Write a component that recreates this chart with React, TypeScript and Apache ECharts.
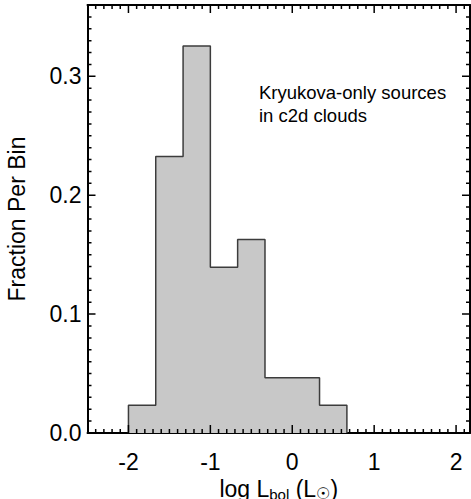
import React, { useEffect, useRef } from "react";
import * as echarts from "echarts";

// Histogram bin edges (log Lbol) and fraction per bin
const binEdges = [-2.0, -1.667, -1.333, -1.0, -0.667, -0.333, 0.0, 0.333, 0.667];
const fractions = [0.0233, 0.2326, 0.3256, 0.1395, 0.1628, 0.0465, 0.0465, 0.0233];

// Axis ranges and tick labels
const xRange = [-2.5, 2.17];
const yRange = [0, 0.36];
const xTickValues = [-2, -1, 0, 1, 2];
const yTickValues = [0.0, 0.1, 0.2, 0.3];
const xMinorStep = 0.1;
const yMinorStep = 0.01;
const annotationLines = ["Kryukova-only sources", "in c2d clouds"];

const FONT = "'Liberation Sans', Arial, Helvetica, sans-serif";

const W = 471;
const H = 499;
const GRID = { left: 87.5, right: 1, top: 5, bottom: 66 };

export default function App() {
  const ref = useRef<HTMLDivElement>(null);

  useEffect(() => {
    document.body.style.margin = "0";
    if (!ref.current) return;
    const chart = echarts.init(ref.current, null, { renderer: "svg" });

    const outline: number[][] = [[binEdges[0], 0]];
    fractions.forEach((v, i) => {
      outline.push([binEdges[i], v]);
      outline.push([binEdges[i + 1], v]);
    });
    outline.push([binEdges[binEdges.length - 1], 0]);

    // data units per pixel, for tick lengths
    const xPerPx = (xRange[1] - xRange[0]) / (W - GRID.left - GRID.right);
    const yPerPx = (yRange[1] - yRange[0]) / (H - GRID.top - GRID.bottom);

    const ticks: any[] = [];
    const gap = ["-", "-"];
    const xs = Math.ceil(xRange[0] / xMinorStep + 1e-9);
    const xe = Math.floor(xRange[1] / xMinorStep - 1e-9);
    for (let k = xs; k <= xe; k++) {
      const v = Math.round(k * xMinorStep * 1000) / 1000;
      const major = xTickValues.some((t) => Math.abs(t - v) < 1e-6);
      const len = (major ? 8 : 4) * yPerPx;
      ticks.push([v, yRange[0]], [v, yRange[0] + len], gap);
      ticks.push([v, yRange[1]], [v, yRange[1] - len], gap);
    }
    const ys = Math.ceil(yRange[0] / yMinorStep + 1e-9);
    const ye = Math.floor(yRange[1] / yMinorStep - 1e-9);
    for (let k = ys; k <= ye; k++) {
      const v = Math.round(k * yMinorStep * 10000) / 10000;
      if (v <= yRange[0]) continue;
      const major = yTickValues.some((t) => Math.abs(t - v) < 1e-6);
      const len = (major ? 8 : 4) * xPerPx;
      ticks.push([xRange[0], v], [xRange[0] + len, v], gap);
      ticks.push([xRange[1], v], [xRange[1] - len, v], gap);
    }

    const labelStyle = { color: "#000", fontSize: 23, fontFamily: FONT };

    chart.setOption({
      animation: false,
      grid: { ...GRID, outerBoundsMode: "none", containLabel: false },
      xAxis: [
        {
          type: "value",
          min: xRange[0],
          max: xRange[1],
          position: "bottom",
          splitLine: { show: false },
          axisLine: { show: true, onZero: false, lineStyle: { color: "#000", width: 2 } },
          axisTick: { show: false },
          axisLabel: { ...labelStyle, margin: 17, customValues: xTickValues, formatter: (v: number) => String(v) },
          name: "log L{sub|bol} (L{sub2|☉})",
          nameLocation: "middle",
          nameGap: 37,
          nameTextStyle: {
            color: "#000",
            fontSize: 23,
            fontFamily: FONT,
            rich: {
              sub: { fontSize: 15, fontFamily: FONT, color: "#000", verticalAlign: "bottom", padding: [9, 0, 0, 0] },
              sub2: { fontSize: 16, fontFamily: "'DejaVu Sans', sans-serif", color: "#000", verticalAlign: "bottom", padding: [9, 0, 0, 0] },
            },
          },
        },
        {
          type: "value",
          min: xRange[0],
          max: xRange[1],
          position: "top",
          splitLine: { show: false },
          axisLine: { show: true, onZero: false, lineStyle: { color: "#000", width: 2 } },
          axisTick: { show: false },
          axisLabel: { show: false },
        },
      ],
      yAxis: [
        {
          type: "value",
          min: yRange[0],
          max: yRange[1],
          interval: 0.1,
          position: "left",
          splitLine: { show: false },
          axisLine: { show: true, onZero: false, lineStyle: { color: "#000", width: 2 } },
          axisTick: { show: false },
          axisLabel: { ...labelStyle, margin: 6, showMaxLabel: false, formatter: (v: number) => v.toFixed(1) },
          name: "Fraction Per Bin",
          nameLocation: "middle",
          nameGap: 59,
          nameTextStyle: { color: "#000", fontSize: 23, fontFamily: FONT },
        },
        {
          type: "value",
          min: yRange[0],
          max: yRange[1],
          interval: 0.1,
          position: "right",
          splitLine: { show: false },
          axisLine: { show: true, onZero: false, lineStyle: { color: "#000", width: 2 } },
          axisTick: { show: false },
          axisLabel: { show: false },
        },
      ],
      series: [
        {
          type: "line",
          xAxisIndex: 0,
          yAxisIndex: 0,
          data: outline,
          showSymbol: false,
          symbol: "none",
          lineStyle: { color: "#3c3c3c", width: 1.5 },
          areaStyle: { color: "#c8c8c8", opacity: 1 },
          z: 2,
        },
        {
          type: "line",
          xAxisIndex: 0,
          yAxisIndex: 0,
          data: ticks,
          showSymbol: false,
          symbol: "none",
          connectNulls: false,
          silent: true,
          lineStyle: { color: "#000", width: 1.5 },
          z: 3,
        },
      ],
      graphic: [
        {
          type: "text",
          left: 259,
          top: 81,
          style: {
            text: annotationLines.join("\n"),
            fontSize: 18.5,
            fontFamily: FONT,
            lineHeight: 23,
            fill: "#000",
          },
        },
      ],
    });

    return () => chart.dispose();
  }, []);

  return <div ref={ref} style={{ width: W, height: H }} />;
}
